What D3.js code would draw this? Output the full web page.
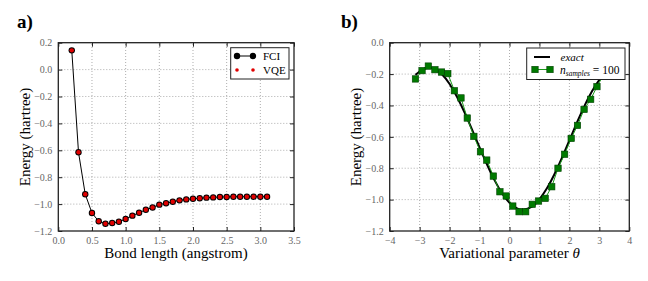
<!DOCTYPE html>
<html>
<head>
<meta charset="utf-8">
<script src="https://cdn.jsdelivr.net/npm/d3@7"></script>
<style>
  body { margin: 0; background: #fff; }
  svg text { font-family: "Liberation Serif", "DejaVu Serif", serif; }
</style>
</head>
<body>
<div id="container"></div>
<script>
// panel a: H2 dissociation curve
var bondLength = [0.2, 0.3, 0.4, 0.5, 0.6, 0.7, 0.8, 0.9, 1.0, 1.1, 1.2, 1.3, 1.4, 1.5, 1.6,
  1.7, 1.8, 1.9, 2.0, 2.1, 2.2, 2.3, 2.4, 2.5, 2.6, 2.7, 2.8, 2.9, 3.0, 3.1];
var fciEnergy = [0.143, -0.615, -0.927, -1.066, -1.128, -1.146, -1.141, -1.131, -1.111, -1.086,
  -1.064, -1.042, -1.025, -1.004, -0.994, -0.982, -0.972, -0.965, -0.960, -0.957,
  -0.952, -0.950, -0.947, -0.947, -0.945, -0.945, -0.945, -0.945, -0.945, -0.945];
var vqeEnergy = [0.143, -0.615, -0.927, -1.066, -1.128, -1.146, -1.141, -1.131, -1.111, -1.086,
  -1.064, -1.042, -1.025, -1.004, -0.994, -0.982, -0.972, -0.965, -0.960, -0.957,
  -0.952, -0.950, -0.947, -0.947, -0.945, -0.945, -0.945, -0.945, -0.945, -0.945];
var aXTicks = [0.0, 0.5, 1.0, 1.5, 2.0, 2.5, 3.0, 3.5];
var aYTicks = [0.2, 0.0, -0.2, -0.4, -0.6, -0.8, -1.0, -1.2];

// panel b: energy vs variational parameter
var exactTheta = [-3.14, -2.9, -2.7, -2.5, -2.25, -2.0, -1.75, -1.5, -1.25, -1.0, -0.75, -0.5, -0.25,
  0.0, 0.25, 0.45, 0.75, 1.0, 1.25, 1.5, 1.75, 2.0, 2.25, 2.5, 2.75, 3.0, 3.14];
var exactEnergy = [-0.205, -0.170, -0.160, -0.168, -0.203, -0.263, -0.346, -0.445, -0.554, -0.667,
  -0.776, -0.876, -0.959, -1.020, -1.056, -1.065, -1.045, -0.998, -0.928, -0.838, -0.734,
  -0.622, -0.510, -0.404, -0.311, -0.237, -0.205];
var sampleTheta = [-3.14, -2.92, -2.71, -2.49, -2.27, -2.06, -1.84, -1.62, -1.41, -1.19, -0.97, -0.76,
  -0.54, -0.32, -0.11, 0.11, 0.32, 0.54, 0.76, 0.97, 1.19, 1.41, 1.62, 1.84, 2.06, 2.27, 2.49,
  2.71, 2.92, 3.14];
var sampleEnergy = [-0.231, -0.178, -0.149, -0.172, -0.187, -0.197, -0.306, -0.352, -0.480, -0.597,
  -0.695, -0.748, -0.850, -0.950, -0.977, -1.041, -1.077, -1.077, -1.030, -1.009, -0.992,
  -0.918, -0.800, -0.711, -0.610, -0.527, -0.425, -0.361, -0.280, -0.205];
var bXTicks = [-4, -3, -2, -1, 0, 1, 2, 3, 4];
var bYTicks = [0.0, -0.2, -0.4, -0.6, -0.8, -1.0, -1.2];

var svg = d3.select('#container')
  .append('svg')
  .attr('width', 648)
  .attr('height', 281);

function fmt(d, digits) {
  return d3.format('.' + digits + 'f')(d).replace('-', '\u2212');
}

// shared frame: grid, inward ticks on all sides, tick labels, box
function drawFrame(g, x, y, xTicks, yTicks, xDigits, yDigits) {
  var x0 = x.range()[0], x1 = x.range()[1];
  var y0 = y.range()[0], y1 = y.range()[1];

  g.append('g').selectAll('line')
    .data(xTicks.slice(1, -1))
    .join('line')
    .attr('x1', d => x(d)).attr('x2', d => x(d))
    .attr('y1', y0).attr('y2', y1)
    .attr('stroke', '#999').attr('stroke-width', 0.8)
    .attr('stroke-dasharray', '1,2');

  g.append('g').selectAll('line')
    .data(yTicks.slice(1, -1))
    .join('line')
    .attr('x1', x0).attr('x2', x1)
    .attr('y1', d => y(d)).attr('y2', d => y(d))
    .attr('stroke', '#999').attr('stroke-width', 0.8)
    .attr('stroke-dasharray', '1,2');

  var axes = [
    g.append('g').attr('transform', `translate(0,${y0})`)
      .call(d3.axisBottom(x).tickValues(xTicks).tickSize(-4).tickPadding(6).tickFormat(d => fmt(d, xDigits))),
    g.append('g').attr('transform', `translate(0,${y1})`)
      .call(d3.axisTop(x).tickValues(xTicks).tickSize(-4).tickFormat('')),
    g.append('g').attr('transform', `translate(${x0},0)`)
      .call(d3.axisLeft(y).tickValues(yTicks).tickSize(-4).tickPadding(6).tickFormat(d => fmt(d, yDigits))),
    g.append('g').attr('transform', `translate(${x1},0)`)
      .call(d3.axisRight(y).tickValues(yTicks).tickSize(-4).tickFormat(''))
  ];
  axes.forEach(a => {
    a.select('.domain').remove();
    a.selectAll('line').attr('stroke', '#222');
    a.selectAll('text')
      .attr('fill', '#666')
      .style('font-size', '10px')
      .style('font-family', '"Liberation Serif", serif');
  });

  g.append('rect')
    .attr('x', x0).attr('y', y1)
    .attr('width', x1 - x0).attr('height', y0 - y1)
    .attr('fill', 'none').attr('stroke', '#222').attr('stroke-width', 1.3);
}

/*-------------------------------------------------------------------------------------*/
// panel a
var xa = d3.scaleLinear().domain([0, 3.5]).range([58.3, 294]);
var ya = d3.scaleLinear().domain([-1.2, 0.2]).range([231, 42.7]);
var pa = svg.append('g');

drawFrame(pa, xa, ya, aXTicks, aYTicks, 1, 1);

pa.append('path')
  .datum(bondLength.map((b, i) => [b, fciEnergy[i]]))
  .attr('fill', 'none')
  .attr('stroke', '#000')
  .attr('stroke-width', 1)
  .attr('d', d3.line().x(d => xa(d[0])).y(d => ya(d[1])));

pa.append('g').selectAll('circle')
  .data(bondLength.map((b, i) => [b, fciEnergy[i]]))
  .join('circle')
  .attr('cx', d => xa(d[0])).attr('cy', d => ya(d[1]))
  .attr('r', 3.2).attr('fill', '#000');

pa.append('g').selectAll('circle')
  .data(bondLength.map((b, i) => [b, vqeEnergy[i]]))
  .join('circle')
  .attr('cx', d => xa(d[0])).attr('cy', d => ya(d[1]))
  .attr('r', 2.2).attr('fill', '#e00000');

// legend a
var la = pa.append('g');
la.append('rect').attr('x', 230.7).attr('y', 47.7).attr('width', 58.3).attr('height', 31.3)
  .attr('fill', '#fff').attr('stroke', '#222').attr('stroke-width', 1);
la.append('line').attr('x1', 237).attr('x2', 253).attr('y1', 56).attr('y2', 56)
  .attr('stroke', '#000').attr('stroke-width', 1);
[237, 253].forEach(cx => {
  la.append('circle').attr('cx', cx).attr('cy', 56).attr('r', 3.2).attr('fill', '#000');
  la.append('circle').attr('cx', cx).attr('cy', 70).attr('r', 1.8).attr('fill', '#e00000');
});
la.append('text').attr('x', 263).attr('y', 60).text('FCI').style('font-size', '11px');
la.append('text').attr('x', 263).attr('y', 74).text('VQE').style('font-size', '11px');

pa.append('text').attr('x', 17).attr('y', 28).text('a)')
  .style('font-size', '19px').style('font-weight', 'bold');
pa.append('text').attr('x', 176).attr('y', 258).attr('text-anchor', 'middle')
  .text('Bond length (angstrom)').style('font-size', '15px');
pa.append('text').attr('transform', 'translate(30,137) rotate(-90)').attr('text-anchor', 'middle')
  .text('Energy (hartree)').style('font-size', '15px');

/*-------------------------------------------------------------------------------------*/
// panel b
var xb = d3.scaleLinear().domain([-4, 4]).range([389.7, 629.3]);
var yb = d3.scaleLinear().domain([-1.2, 0]).range([231, 42.7]);
var pb = svg.append('g');

drawFrame(pb, xb, yb, bXTicks, bYTicks, 0, 1);

pb.append('path')
  .datum(exactTheta.map((t, i) => [t, exactEnergy[i]]))
  .attr('fill', 'none')
  .attr('stroke', '#000')
  .attr('stroke-width', 2)
  .attr('d', d3.line().curve(d3.curveNatural).x(d => xb(d[0])).y(d => yb(d[1])));

pb.append('path')
  .datum(sampleTheta.map((t, i) => [t, sampleEnergy[i]]))
  .attr('fill', 'none')
  .attr('stroke', '#1a9a1a')
  .attr('stroke-width', 1)
  .attr('d', d3.line().x(d => xb(d[0])).y(d => yb(d[1])));

pb.append('g').selectAll('rect')
  .data(sampleTheta.map((t, i) => [t, sampleEnergy[i]]))
  .join('rect')
  .attr('x', d => xb(d[0]) - 3.2).attr('y', d => yb(d[1]) - 3.2)
  .attr('width', 6.4).attr('height', 6.4)
  .attr('fill', '#007a00').attr('stroke', '#004000').attr('stroke-width', 0.6);

// legend b
var lb = pb.append('g');
lb.append('rect').attr('x', 526.7).attr('y', 48).attr('width', 98.3).attr('height', 31.5)
  .attr('fill', '#fff').attr('stroke', '#222').attr('stroke-width', 1);
lb.append('line').attr('x1', 534).attr('x2', 550).attr('y1', 57).attr('y2', 57)
  .attr('stroke', '#000').attr('stroke-width', 2);
lb.append('line').attr('x1', 535).attr('x2', 550).attr('y1', 69.5).attr('y2', 69.5)
  .attr('stroke', '#1a9a1a').attr('stroke-width', 1);
[535, 550].forEach(cx => {
  lb.append('rect').attr('x', cx - 3.2).attr('y', 66.3).attr('width', 6.4).attr('height', 6.4)
    .attr('fill', '#007a00').attr('stroke', '#004000').attr('stroke-width', 0.6);
});
lb.append('text').attr('x', 560.5).attr('y', 60.5).text('exact')
  .style('font-size', '11px').style('font-style', 'italic');
var nt = lb.append('text').attr('x', 560).attr('y', 73.5).style('font-size', '11.5px');
nt.append('tspan').text('n').style('font-style', 'italic');
nt.append('tspan').attr('dy', 2).text('samples').style('font-style', 'italic').style('font-size', '7.5px');
nt.append('tspan').attr('dy', -2).text(' = 100');

pb.append('text').attr('x', 341).attr('y', 28).text('b)')
  .style('font-size', '19px').style('font-weight', 'bold');
var bx = pb.append('text').attr('x', 509.5).attr('y', 258).attr('text-anchor', 'middle')
  .style('font-size', '15px');
bx.append('tspan').text('Variational parameter ');
bx.append('tspan').text('\u03b8').style('font-style', 'italic');
pb.append('text').attr('transform', 'translate(361,137) rotate(-90)').attr('text-anchor', 'middle')
  .text('Energy (hartree)').style('font-size', '15px');
</script>
</body>
</html>
